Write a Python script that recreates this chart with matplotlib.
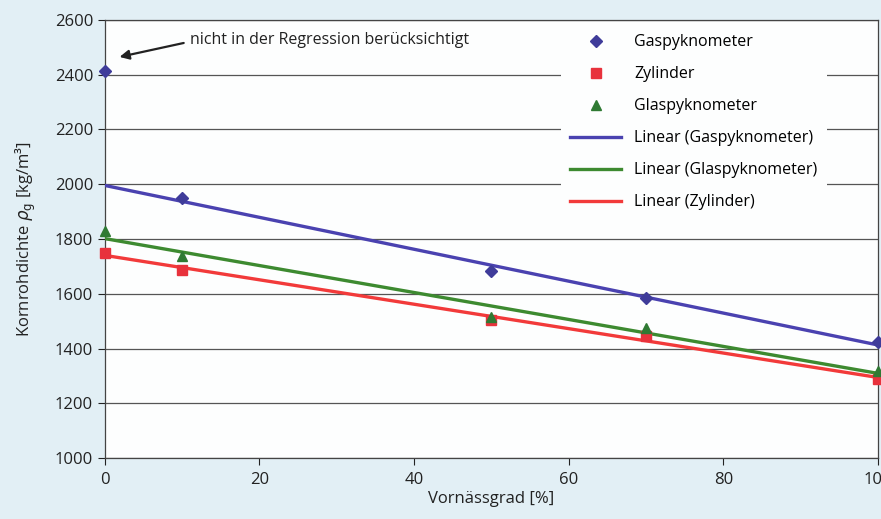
import numpy as np
import matplotlib
matplotlib.use("Agg")
import matplotlib.pyplot as plt

plt.rcParams['font.family'] = ['Open Sans', 'DejaVu Sans']

x_vals = [0, 10, 50, 70, 100]
gas = [2415, 1950, 1683, 1585, 1424]
zyl = [1749, 1687, 1504, 1446, 1289]
glas = [1829, 1738, 1515, 1475, 1318]

fig = plt.figure(figsize=(8.81, 5.19), dpi=100)
fig.patch.set_facecolor('#e2eff5')
ax = fig.add_axes([0.119, 0.1175, 0.8776, 0.844])
ax.set_facecolor('#fdfefe')

c_gas_m, c_gas_l = '#3f3c9a', '#4a42b0'
c_zyl_m, c_zyl_l = '#e8323c', '#f23a3a'
c_gla_m, c_gla_l = '#2f7a33', '#3d8a30'

xa = np.array(x_vals, dtype=float)
xf = np.array([0, 100], dtype=float)

pg = np.polyfit(xa[1:], np.array(gas[1:], float), 1)
pl = np.polyfit(xa, np.array(glas, float), 1)
pz = np.polyfit(xa, np.array(zyl, float), 1)

ax.plot(x_vals, gas, linestyle='none', marker='D', ms=6, color=c_gas_m, label='Gaspyknometer', clip_on=False, zorder=4)
ax.plot(x_vals, zyl, linestyle='none', marker='s', ms=7.5, color=c_zyl_m, label='Zylinder', clip_on=False, zorder=4)
ax.plot(x_vals, glas, linestyle='none', marker='^', ms=7.5, color=c_gla_m, label='Glaspyknometer', clip_on=False, zorder=4)
ax.plot(xf, np.polyval(pg, xf), color=c_gas_l, lw=2.4, label='Linear (Gaspyknometer)', zorder=3)
ax.plot(xf, np.polyval(pl, xf), color=c_gla_l, lw=2.4, label='Linear (Glaspyknometer)', zorder=3)
ax.plot(xf, np.polyval(pz, xf), color=c_zyl_l, lw=2.4, label='Linear (Zylinder)', zorder=3)

ax.set_xlim(0, 100)
ax.set_ylim(1000, 2600)
ax.set_xticks([0, 20, 40, 60, 80, 100])
ax.set_yticks(range(1000, 2601, 200))
ax.yaxis.grid(True, color='#555555', lw=0.9)
ax.set_axisbelow(True)
for s in ax.spines.values():
    s.set_color('#444444')
    s.set_linewidth(0.9)
ax.tick_params(axis='both', labelsize=12, colors='#222222', length=5, width=0.8, direction='out')
ax.tick_params(axis='x', pad=5)

ax.set_xlabel('Vornässgrad [%]', fontsize=12, color='#222222', labelpad=2)
ax.set_ylabel('Kornrohdichte $\\rho_\\mathrm{g}$ [kg/m³]', fontsize=12, color='#222222', labelpad=12)

ax.text(11, 2527, 'nicht in der Regression berücksichtigt', fontsize=11.5, color='#222222',
        va='center', ha='left')
ax.annotate('', xy=(1.9, 2465), xytext=(10.2, 2516),
            arrowprops=dict(arrowstyle='-|>', color='#222222', lw=1.6, mutation_scale=14, shrinkA=0, shrinkB=0))

leg = ax.legend(loc='upper right', bbox_to_anchor=(0.94, 1.0), frameon=True, fontsize=11.5,
                handlelength=3.2, labelspacing=1.0, borderpad=0.6, handletextpad=0.8, borderaxespad=0.3)
leg.get_frame().set_facecolor('#fdfefe')
leg.get_frame().set_edgecolor('none')
leg.get_frame().set_alpha(1)

fig.savefig('out.png', dpi=100, facecolor=fig.get_facecolor())
